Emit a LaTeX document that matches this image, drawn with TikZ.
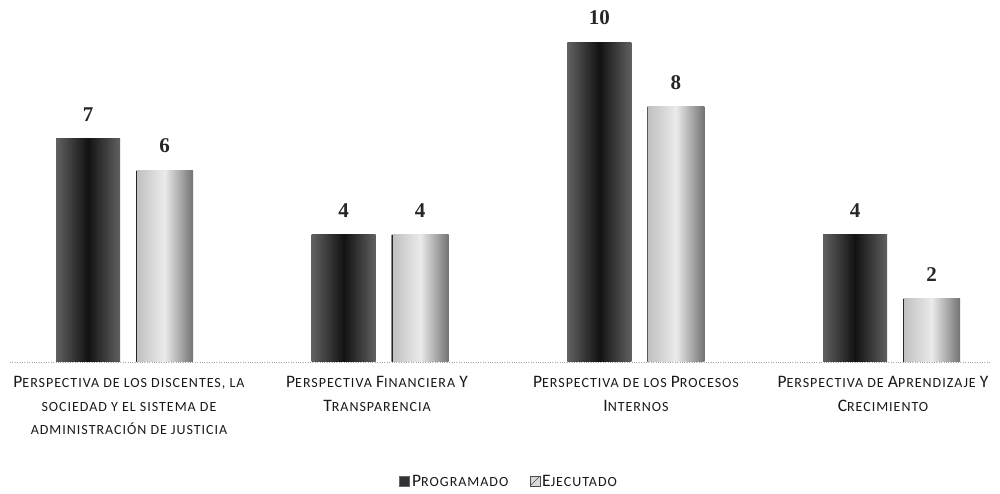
\documentclass[tikz,border=0pt]{standalone}
\usepackage{fontspec}
\setmainfont{Carlito}
\newfontfamily\numfont{Liberation Serif}
\newfontfamily\labfont[LetterSpace=7]{Carlito}
\newcommand\Bg[1]{{\fontsize{17.5}{18}\selectfont #1}}
\tikzset{
  darkbar/.style={anchor=south, inner sep=0pt, minimum width=64pt,
    left color=black!62, right color=black!62, middle color=black!93},
  lightbar/.style={anchor=south, inner sep=0pt, minimum width=57pt,
    left color=black!25, right color=black!55, middle color=black!8,
    path picture={\draw[line width=2pt, black!85] (path picture bounding box.south west) -- (path picture bounding box.north west);}},
  val/.style={font=\numfont\bfseries\fontsize{21}{23}\selectfont, text=black!85},
  catlab/.style={anchor=north, align=center, text=black!90,
    font=\labfont\fontsize{14}{23.5}\selectfont},
  legtext/.style={anchor=west, text=black!90, font=\labfont\fontsize{14}{15}\selectfont, inner sep=1pt},
}
\begin{document}
\begin{tikzpicture}[x=1pt, y=-1pt]
\useasboundingbox[fill=white] (0,0) rectangle (1000,494);
% faint baseline
\draw[black!35, dotted] (10,362) -- (990,362);
% group 1
\node[darkbar, minimum height=223pt] (p1) at (88,362) {};
\node[lightbar, minimum height=191pt] (e1) at (164.5,362) {};
% group 2
\node[darkbar, minimum height=127pt] (p2) at (343.7,362) {};
\node[lightbar, minimum height=127pt] (e2) at (420.2,362) {};
% group 3
\node[darkbar, minimum height=319pt] (p3) at (599.4,362) {};
\node[lightbar, minimum height=255pt] (e3) at (675.9,362) {};
% group 4
\node[darkbar, minimum height=127pt] (p4) at (855.1,362) {};
\node[lightbar, minimum height=63pt] (e4) at (931.6,362) {};
% values
\node[val] (v1) at ([yshift=24pt]p1.north) {7};
\node[val] (w1) at ([yshift=25pt]e1.north) {6};
\node[val] (v2) at ([yshift=24pt]p2.north) {4};
\node[val] (w2) at ([yshift=24pt]e2.north) {4};
\node[val] (v3) at ([yshift=25pt]p3.north) {10};
\node[val] (w3) at ([yshift=24pt]e3.north) {8};
\node[val] (v4) at ([yshift=24pt]p4.north) {4};
\node[val] (w4) at ([yshift=24pt]e4.north) {2};
% category labels
\node[catlab] (c1) at (129,373) {{\Bg P}ERSPECTIVA DE LOS DISCENTES, LA\\SOCIEDAD Y EL SISTEMA DE\\ADMINISTRACIÓN DE JUSTICIA};
\node[catlab] (c2) at (377,373) {{\Bg P}ERSPECTIVA {\Bg F}INANCIERA {\Bg Y}\\{\Bg T}RANSPARENCIA};
\node[catlab] (c3) at (636,373) {{\Bg P}ERSPECTIVA DE LOS {\Bg P}ROCESOS\\{\Bg I}NTERNOS};
\node[catlab] (c4) at (883,373) {{\Bg P}ERSPECTIVA DE {\Bg A}PRENDIZAJE {\Bg Y}\\{\Bg C}RECIMIENTO};
% legend
\node[draw=black!60, fill=black!80, minimum size=10pt, inner sep=0pt] (lk1) at (404,481) {};
\node[legtext] (lt1) at (411,481) {{\Bg P}ROGRAMADO};
\node[draw=black!70, fill=black!15, minimum size=10pt, inner sep=0pt,
  path picture={\draw[black!70] (path picture bounding box.south west) -- (path picture bounding box.north east);}] (lk2) at (535,481) {};
\node[legtext] (lt2) at (541,481) {{\Bg E}JECUTADO};
\end{tikzpicture}
\end{document}
